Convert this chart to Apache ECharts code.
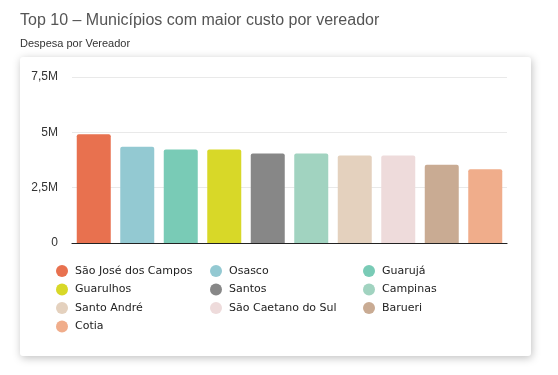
<!DOCTYPE html>
<html>
<head>
<meta charset="utf-8">
<script src="https://cdn.jsdelivr.net/npm/echarts@6/dist/echarts.min.js"></script>
<style>html,body{margin:0;padding:0;background:#fff;}#c{width:558px;height:375px;}</style>
</head>
<body>
<div id="c"></div>
<script>
const categories = ['São José dos Campos','Osasco','Guarujá','Guarulhos','Santos','Campinas','Santo André','São Caetano do Sul','Barueri','Cotia'];
const values = [4.91, 4.35, 4.23, 4.23, 4.04, 4.04, 3.95, 3.95, 3.54, 3.33];
const colors = ['#E8714F','#93C9D2','#79CBB6','#D8D828','#878787','#A1D3C0','#E4D1BE','#EEDBDB','#C9AB93','#F0AD8B'];
const yTicks = [0, 2.5, 5, 7.5];

const chart = echarts.init(document.getElementById('c'), null, {renderer:'canvas'});
const series = categories.map((name, i) => ({
  name: name,
  type: 'bar',
  stack: 'all',
  barWidth: 34,
  itemStyle: {color: colors[i], borderRadius: [2,2,0,0]},
  data: categories.map((c, j) => j === i ? values[i] * 1e6 : '-')
}));
const colLefts = [56, 210, 363];
const legends = colLefts.map((left, col) => ({
  orient: 'vertical', left: left, top: 265, padding: 0, icon: 'circle',
  itemWidth: 12, itemHeight: 12, itemGap: 6.5,
  textStyle: {fontFamily: 'DejaVu Sans', fontSize: 11, color: '#222', padding: [0,0,0,2]},
  data: categories.filter((c, i) => i % 3 === col)
}));
chart.setOption({
  animation: false,
  color: colors,
  graphic: [{
    type: 'rect', z: -10, silent: true,
    shape: {x: 20, y: 57, width: 511, height: 299, r: 3},
    style: {fill: '#fff', shadowBlur: 8, shadowColor: 'rgba(0,0,0,0.25)', shadowOffsetX: 1, shadowOffsetY: 2}
  }],
  title: [
    {text: 'Top 10 – Municípios com maior custo por vereador', left: 20, top: 13, padding: 0,
     textStyle: {fontFamily: 'Liberation Sans', fontSize: 16, fontWeight: 'normal', color: '#555'}},
    {text: 'Despesa por Vereador', left: 20, top: 38, padding: 0,
     textStyle: {fontFamily: 'Liberation Sans', fontSize: 11, fontWeight: 'normal', color: '#333'}}
  ],
  grid: {left: 72, right: 51, top: 77, bottom: 132},
  xAxis: {
    type: 'category', data: categories,
    axisLine: {lineStyle: {color: '#222', width: 1.2}},
    axisTick: {show: false}, axisLabel: {show: false}
  },
  yAxis: {
    type: 'value', min: 0, max: 7.5e6, interval: 2.5e6,
    axisLine: {show: false}, axisTick: {show: false},
    splitLine: {lineStyle: {color: '#e9e9e9'}},
    axisLabel: {
      fontFamily: 'Liberation Sans', fontSize: 12, color: '#333', margin: 14,
      formatter: v => { const m = v / 1e6; const t = yTicks.find(x => Math.abs(x - m) < 1e-9); return t === 0 ? '0' : String(t).replace('.', ',') + 'M'; }
    }
  },
  legend: legends,
  series: series
});
</script>
</body>
</html>
